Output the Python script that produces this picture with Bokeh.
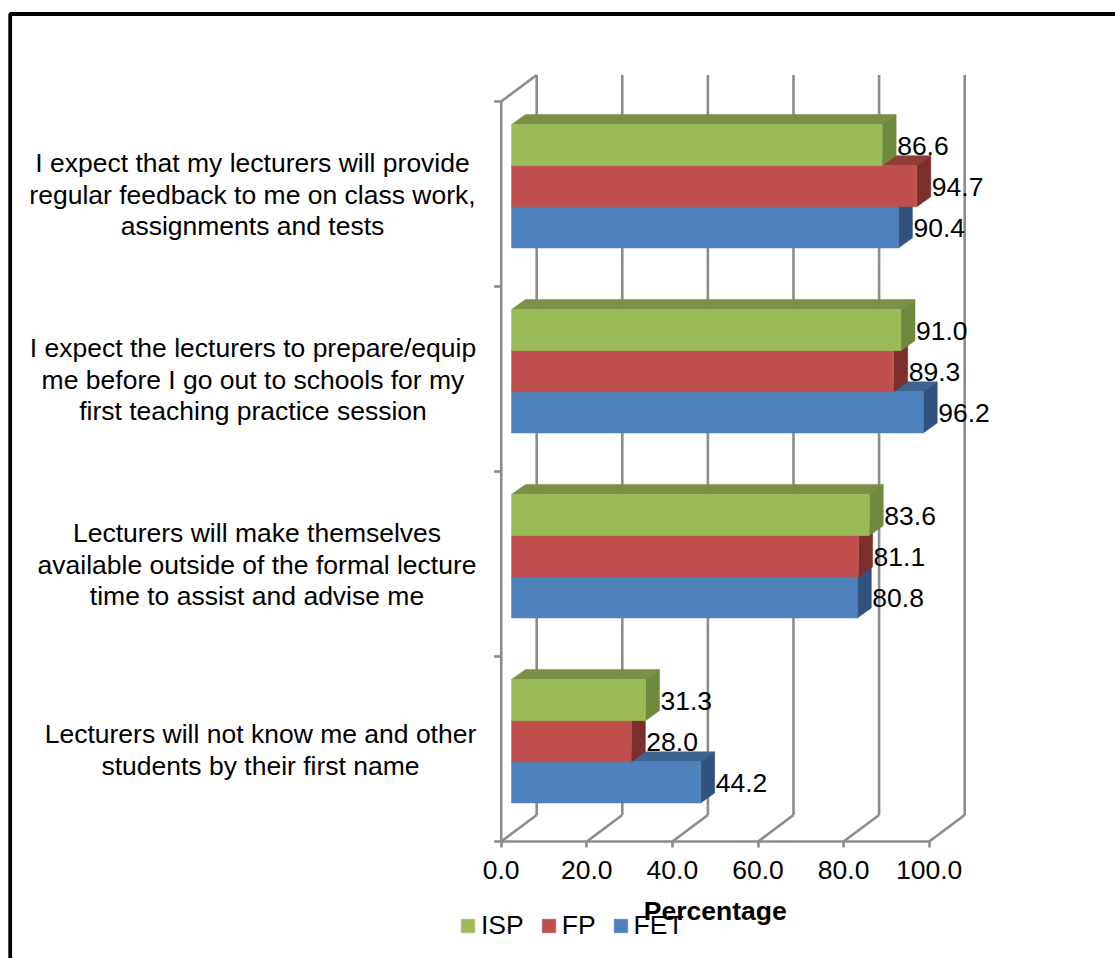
from bokeh.embed import file_html
from bokeh.resources import INLINE
from bokeh.core.properties import value
from bokeh.models import (BoxAnnotation, FixedTicker, Legend, LegendItem,
                          LinearAxis, Range1d)
from bokeh.plotting import figure

# Survey statements, bottom to top along the vertical axis
statements = [
    "Lecturers will not know me and other\nstudents by their first name",
    "Lecturers will make themselves\navailable outside of the formal lecture\ntime to assist and advise me",
    "I expect the lecturers to prepare/equip\nme before I go out to schools for my\nfirst teaching practice session",
    "I expect that my lecturers will provide\nregular feedback to me on class work,\nassignments and tests",
]
isp = [31.3, 83.6, 91.0, 86.6]
fp = [28.0, 81.1, 89.3, 94.7]
fet = [44.2, 80.8, 96.2, 90.4]
x_ticks = [0, 20, 40, 60, 80, 100]

# Page geometry: pixels per data unit on each axis
WIDTH, HEIGHT = 1115, 958
PX_X, PX_Y = 4.28, 185.0
ORIGIN_X, ORIGIN_Y = 500.7, 841.0
FONT = "Liberation Sans"
FONT_SIZE = "26.5px"
GRID = "#8c8c8c"
GRID_W = 2.6

# Pseudo-3D depth of the chart walls and of the bars, in data units
wall_dx, wall_dy = 35.5 / PX_X, 26.5 / PX_Y
bar_dx, bar_dy = 14 / PX_X, 10 / PX_Y
bar_x0 = 10.3 / PX_X
bar_h = 41.2 / PX_Y
group_mid = 0.542
label_mid = 0.495
label_x = [(c - ORIGIN_X) / PX_X for c in (260, 256.5, 252.5, 252)]

# The frame fills the page; the value axis is pinned at y = 0 inside it
p = figure(
    width=WIDTH, height=HEIGHT, output_backend="svg", toolbar_location=None,
    x_range=Range1d(-ORIGIN_X / PX_X, (WIDTH - ORIGIN_X) / PX_X),
    y_range=Range1d((ORIGIN_Y - HEIGHT) / PX_Y, ORIGIN_Y / PX_Y),
    x_axis_type=None, y_axis_type=None,
    min_border_left=0, min_border_right=0, min_border_top=0, min_border_bottom=0,
    background_fill_color="white", border_fill_color="white",
)
p.grid.visible = False
p.outline_line_color = None

# Walls, floor and gridlines
n = len(statements)
p.segment(
    x0=[t + wall_dx for t in x_ticks], y0=[wall_dy] * 6,
    x1=[t + wall_dx for t in x_ticks], y1=[n + wall_dy] * 6,
    line_color=GRID, line_width=GRID_W)
p.segment(
    x0=x_ticks, y0=[0] * 6,
    x1=[t + wall_dx for t in x_ticks], y1=[wall_dy] * 6,
    line_color=GRID, line_width=GRID_W)
p.segment(x0=[0, 0], y0=[0, n], x1=[0, wall_dx], y1=[n, n + wall_dy],
          line_color=GRID, line_width=GRID_W)
levels = list(range(n + 1))
p.segment(x0=[-7 / PX_X] * (n + 1), y0=levels, x1=[0] * (n + 1), y1=levels,
          line_color=GRID, line_width=GRID_W)

# Each series: (values, slot in the group, front, top, side colours)
series = {
    "FET": (fet, -1, "#4f81bd", "#3d6491", "#30527c"),
    "FP": (fp, 0, "#c0504d", "#8f3c3a", "#7b2f2d"),
    "ISP": (isp, 1, "#9bbb59", "#7b8f45", "#6f8a3d"),
}

fronts = {}
for name, (vals, slot, front, top, side) in series.items():
    bottoms = [i + group_mid + (slot - 0.5) * bar_h for i in range(n)]
    tops = [b + bar_h for b in bottoms]
    ends = [bar_x0 + v for v in vals]
    p.patches(
        xs=[[bar_x0, e, e + bar_dx, bar_x0 + bar_dx] for e in ends],
        ys=[[t, t, t + bar_dy, t + bar_dy] for t in tops],
        fill_color=top, line_color=top, line_width=0.5)
    p.patches(
        xs=[[e, e + bar_dx, e + bar_dx, e] for e in ends],
        ys=[[b, b + bar_dy, t + bar_dy, t] for b, t in zip(bottoms, tops)],
        fill_color=side, line_color=side, line_width=0.5)
    fronts[name] = p.quad(left=[bar_x0] * n, right=ends, bottom=bottoms, top=tops,
                          fill_color=front, line_color=front, line_width=0.5)

# Value labels beside each bar
for name, (vals, slot, *_colours) in series.items():
    ends = [bar_x0 + v + bar_dx for v in vals]
    ys = [i + group_mid + (slot - 0.5) * bar_h + bar_h / 2 for i in range(n)]
    p.text(x=ends, y=ys, text=[f"{v:.1f}" for v in vals], x_offset=1, y_offset=1,
           text_font=value(FONT), text_font_size=value(FONT_SIZE),
           text_color="black", text_align="left", text_baseline="middle")

# Statements to the left of the vertical axis
p.text(x=label_x, y=[i + label_mid for i in range(n)], text=statements,
       text_font=value(FONT), text_font_size=value(FONT_SIZE), text_color="black",
       text_align="center", text_baseline="middle", text_line_height=1.05)

axis = LinearAxis(
    ticker=FixedTicker(ticks=x_ticks), bounds=(0, 100), fixed_location=0,
    major_label_text_font=FONT, major_label_text_font_size=FONT_SIZE,
    major_label_text_color="black", major_label_standoff=13,
    major_label_overrides={t: f"{t:.1f}" for t in x_ticks},
    axis_line_color=GRID, axis_line_width=GRID_W,
    major_tick_line_color=GRID, major_tick_line_width=GRID_W,
    major_tick_in=0, major_tick_out=6, minor_tick_line_color=None,
)
p.add_layout(axis, "below")

legend = Legend(
    items=[LegendItem(label=k, renderers=[fronts[k]]) for k in ("ISP", "FP", "FET")],
    orientation="horizontal", location=(459, 17),
    glyph_width=17, glyph_height=17, label_standoff=5, spacing=16,
    padding=0, margin=0, border_line_color=None, background_fill_alpha=0,
    label_text_font=FONT, label_text_font_size=FONT_SIZE, label_text_color="black",
)
p.add_layout(legend)

# Axis caption, printed over the legend
p.text(x=[50], y=[(ORIGIN_Y - 910) / PX_Y], text=["Percentage"], level="overlay",
       text_font=value(FONT), text_font_size=value("26.5px"), text_font_style="bold",
       text_color="black", text_align="center", text_baseline="middle")

# Heavy frame around the chart, running off the right and bottom of the page
p.add_layout(BoxAnnotation(
    left=9.7, right=WIDTH + 20, top=HEIGHT - 13.5, bottom=-20,
    left_units="screen", right_units="screen", top_units="screen", bottom_units="screen",
    fill_alpha=0, line_color="black", line_width=3.8, line_alpha=1,
))

open("out.html", "w").write(file_html(p, INLINE))
